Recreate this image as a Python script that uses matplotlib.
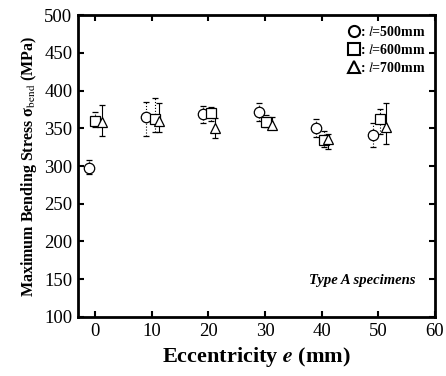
import numpy as np
import matplotlib.pyplot as plt
from matplotlib.lines import Line2D

plt.rcParams['font.family'] = 'Liberation Serif'
plt.rcParams['mathtext.fontset'] = 'stix'

# data (eccentricity, stress, error bar low / high)
e_500 = [-1, 9, 19, 29, 39, 49]
s_500 = [298, 365, 369, 371, 350, 341]
lo_500 = [290, 340, 357, 360, 338, 325]
hi_500 = [308, 385, 380, 383, 362, 357]

e_600 = [0, 10.6, 20.4, 30.2, 40.4, 50.4]
s_600 = [360, 362, 370, 358, 335, 362]
lo_600 = [352, 345, 360, 352, 325, 343]
hi_600 = [372, 390, 378, 368, 346, 375]

e_700 = [1.3, 11.3, 21.2, 31.3, 41.2, 51.3]
s_700 = [358, 360, 350, 354, 336, 352]
lo_700 = [340, 345, 337, 350, 323, 329]
hi_700 = [381, 383, 364, 365, 343, 383]

fig = plt.figure(figsize=(4.46, 3.76), dpi=100)
ax = fig.add_axes([0.175, 0.157, 0.80, 0.803])

def draw(e, s, lo, hi, mk, ls):
    s = np.array(s)
    yerr = [s - np.array(lo), np.array(hi) - s]
    eb = ax.errorbar(e, s, yerr=yerr, fmt=mk, mfc='white', mec='black', ms=7.5,
                     mew=0.9, ecolor='black', elinewidth=0.8, capsize=2.5,
                     capthick=0.8)
    eb[2][0].set_linestyle(ls)

draw(e_500, s_500, lo_500, hi_500, 'o', ':')
draw(e_600, s_600, lo_600, hi_600, 's', ':')
draw(e_700, s_700, lo_700, hi_700, '^', '-')

ax.set_xlim(-3, 60)
ax.set_ylim(100, 500)
ax.set_xticks(range(0, 61, 10))
ax.set_yticks(range(100, 501, 50))
ax.tick_params(direction='in', top=True, right=True, length=4, width=1.5,
               labelsize=13.5, pad=4)
for sp in ax.spines.values():
    sp.set_linewidth(2)

ax.set_xlabel('Eccentricity $\\boldsymbol{e}$ (mm)', fontsize=16, fontweight='bold',
              labelpad=4)
ax.set_ylabel('Maximum Bending Stress σ$_{\\rm bend}$ (MPa)', fontsize=11.5,
              fontweight='bold')

handles = [Line2D([], [], marker=m, ls='none', mfc='white', mec='black', ms=8, mew=1.5)
           for m in ['o', 's', '^']]
labels = [': $\\it{l}$=500mm', ': $\\it{l}$=600mm', ': $\\it{l}$=700mm']
ax.legend(handles, labels, loc='upper right', frameon=False, handlelength=0.6,
          handletextpad=0.1, labelspacing=0.3, borderaxespad=0.3,
          prop={'weight': 'bold', 'size': 10})

ax.text(0.947, 0.122, 'Type A specimens', transform=ax.transAxes, ha='right',
        va='center', fontsize=10.5, fontweight='bold', style='italic')

fig.savefig('out.png', dpi=100)
